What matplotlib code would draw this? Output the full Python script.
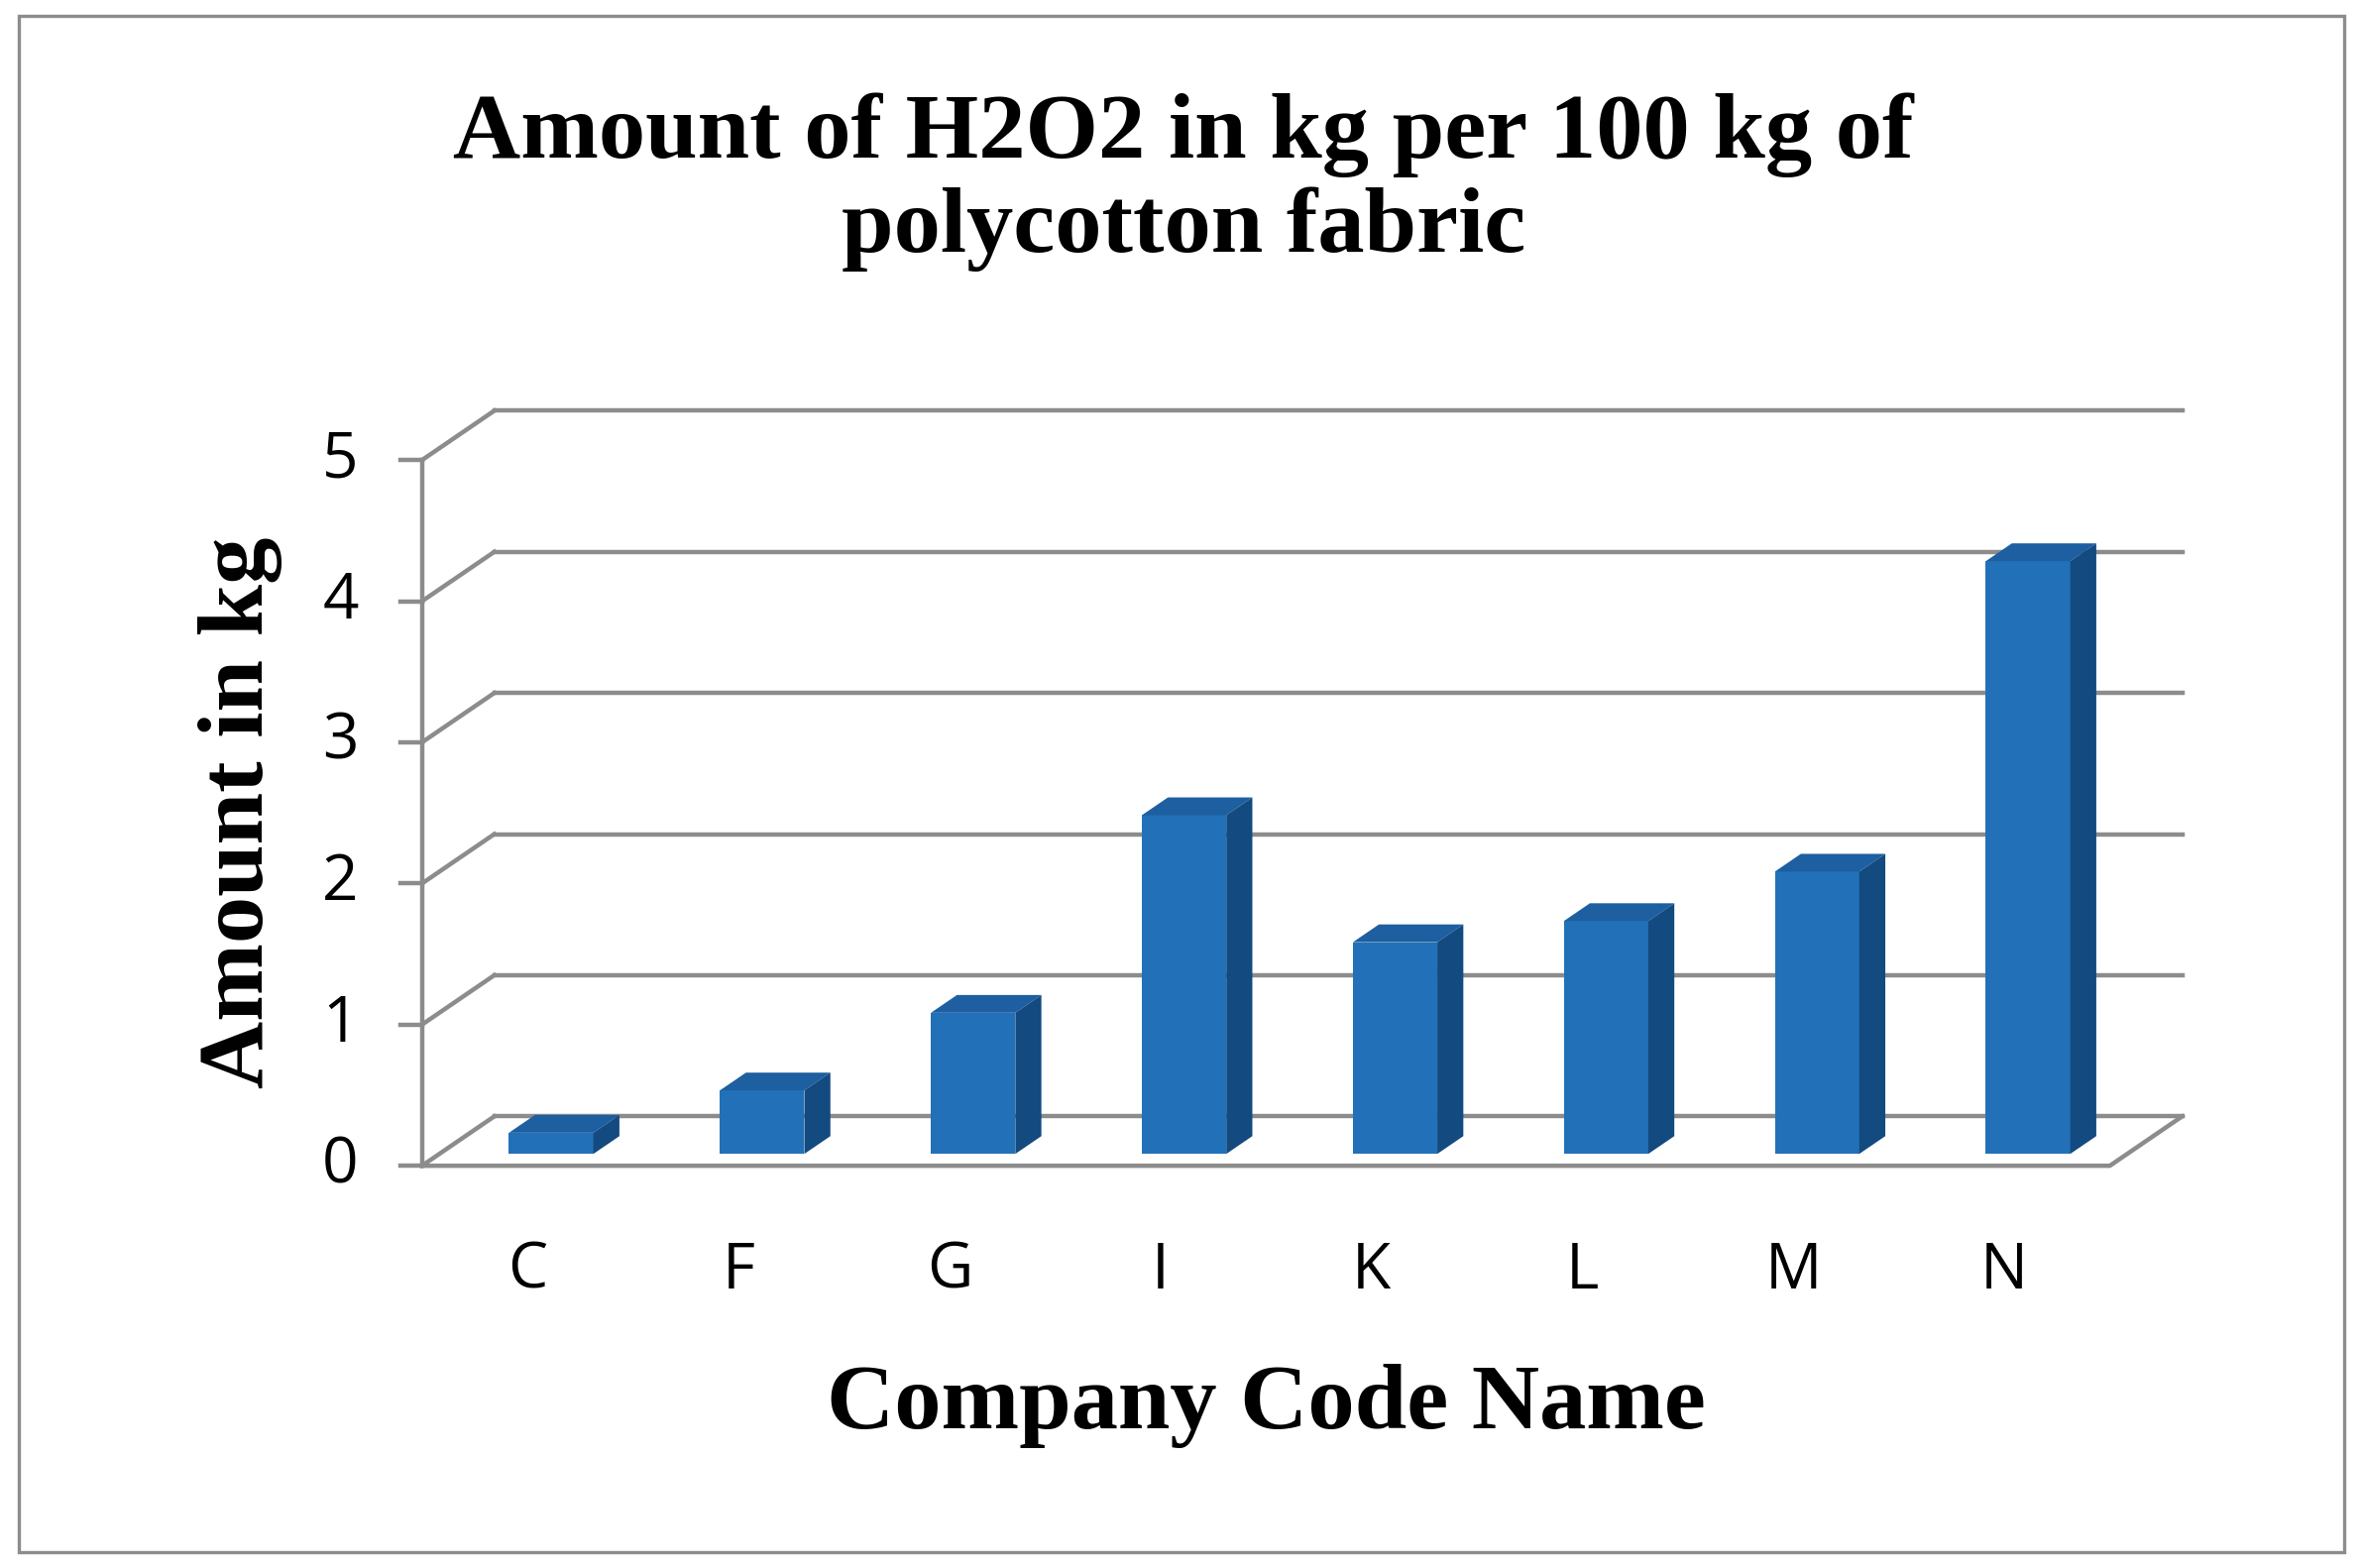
import numpy as np
import matplotlib.pyplot as plt
from matplotlib.patches import Polygon, Rectangle

companies = ['C', 'F', 'G', 'I', 'K', 'L', 'M', 'N']
amounts = [0.15, 0.45, 1.0, 2.4, 1.5, 1.65, 2.0, 4.2]
yticks = [0, 1, 2, 3, 4, 5]

grid_c = '#8c8c8c'
front_c, top_c, side_c = '#2271b8', '#1d5fa0', '#134a80'
serif = 'Liberation Serif'

# fake 3d: depth offset of the wall in data units
ddx, ddy = 0.343, 0.35
n = len(companies)

fig = plt.figure(figsize=(11.92, 7.91), dpi=200)
ax = fig.add_axes([0, 0, 1, 1])
ax.set_xlim(-2.0, 9.2)
ax.set_ylim(-2.85, 8.26)
ax.axis('off')

lw = 1.6
# back wall grid lines + left wall diagonals
for k in yticks:
  ax.plot([ddx, n + ddx], [k + ddy, k + ddy], color=grid_c, lw=lw, zorder=1)
  ax.plot([0, ddx], [k, k + ddy], color=grid_c, lw=lw, zorder=1)
  ax.plot([-0.1, 0], [k, k], color=grid_c, lw=lw, zorder=1)
  ax.text(-0.3, k, str(k), ha='right', va='center', fontsize=23, family='Open Sans')
ax.plot([0, 0], [0, yticks[-1]], color=grid_c, lw=lw, zorder=1)
ax.plot([0, n, n + ddx], [0, 0, ddy], color=grid_c, lw=lw, zorder=1)

# bars
w = 0.4
f0, f1 = 0.24, 0.6
for i, (c, v) in enumerate(zip(companies, amounts)):
  x0 = i + 0.5 - w / 2 + f0 * ddx + 0.03
  y0 = f0 * ddy
  bx, by = (f1 - f0) * ddx, (f1 - f0) * ddy
  ax.add_patch(Rectangle((x0, y0), w, v, fc=front_c, ec='none', zorder=3))
  ax.add_patch(Polygon([(x0, y0 + v), (x0 + w, y0 + v), (x0 + w + bx, y0 + v + by), (x0 + bx, y0 + v + by)],
                       fc=top_c, ec='none', zorder=3))
  ax.add_patch(Polygon([(x0 + w, y0), (x0 + w + bx, y0 + by), (x0 + w + bx, y0 + v + by), (x0 + w, y0 + v)],
                       fc=side_c, ec='none', zorder=3))
  ax.text(i + 0.5, -0.75, c, ha='center', va='center', fontsize=23, family='Open Sans')

ax.text(3.61, 6.97, 'Amount of H2O2 in kg per 100 kg of\npolycotton fabric', ha='center', va='center',
        fontsize=34, fontweight='bold', family=serif, linespacing=1.15)
ax.text(4.0, -1.70, 'Company Code Name', ha='center', va='center', fontsize=34, fontweight='bold', family=serif)
ax.text(-0.86, 2.5, 'Amount in kg', ha='center', va='center', rotation=90, fontsize=34, fontweight='bold', family=serif)

# outer frame
fig.patches.append(Rectangle((0.008, 0.01), 0.984, 0.98, transform=fig.transFigure, fill=False,
                             ec='#8c8c8c', lw=1.2))

fig.savefig('out.png', dpi=200)
